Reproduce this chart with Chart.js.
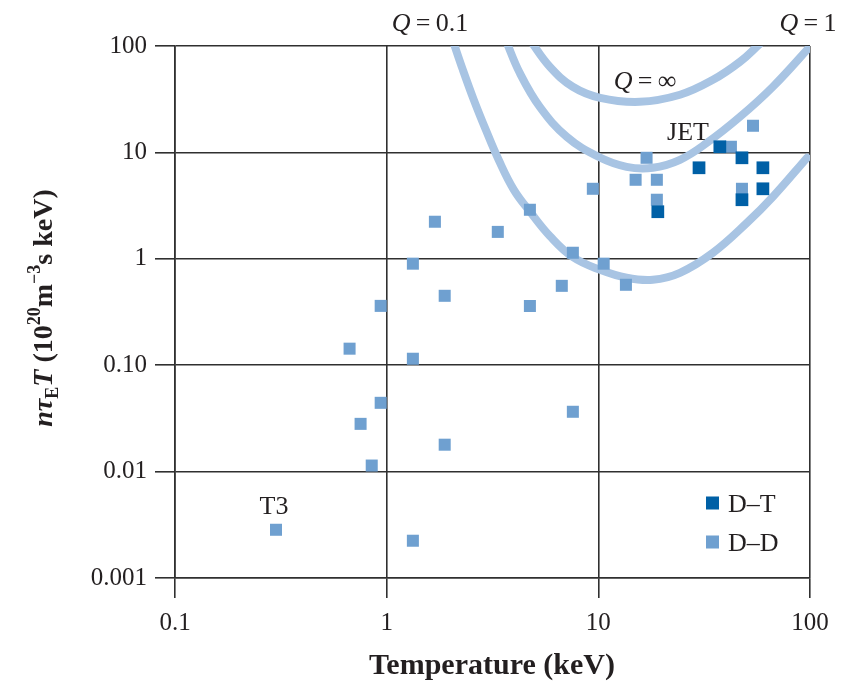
<!DOCTYPE html>
<html>
<head>
<meta charset="utf-8">
<script src="https://cdn.jsdelivr.net/npm/chart.js@4.4.1/dist/chart.umd.min.js"></script>
<style>
  html, body { margin: 0; padding: 0; background: #fff; }
  #wrap { width: 848px; height: 687px; position: relative; }
</style>
</head>
<body>
<div id="wrap"><canvas id="chart"></canvas></div>
<script>
// temperature in keV, n tau_E T in 10^20 m^-3 s keV
const dtTemp  = [19.1, 29.9, 37.5, 47.7, 47.7, 59.9, 59.9];
const dtValue = [2.77, 7.17, 11.3, 8.9, 3.59, 7.17, 4.55];

const ddTemp  = [0.30, 0.668, 0.753, 0.85, 0.937, 0.937, 1.33, 1.33, 1.33, 1.69,
                 1.88, 1.88, 3.35, 4.75, 4.75, 6.72, 7.58, 7.58, 9.42, 10.6,
                 13.5, 15.0, 16.9, 18.9, 18.9, 42.3, 47.7, 53.8];
const ddValue = [0.00284, 0.143, 0.0281, 0.0114, 0.0443, 0.361, 0.00224, 0.115, 0.90, 2.23,
                 0.449, 0.0179, 1.79, 2.89, 0.36, 0.557, 1.14, 0.0365, 4.55, 0.90,
                 0.57, 5.53, 8.9, 5.53, 3.59, 11.3, 4.55, 17.8];

// Q contours
const qInfTemp  = [4.75, 5.90, 7.57, 10.2, 15.7, 24.3, 34.8, 46.7, 58.0];
const qInfValue = [114, 63.8, 41.4, 32.6, 29.9, 34.8, 48.1, 71.1, 105];
const qOneTemp  = [3.65, 4.25, 5.29, 7.10, 10.0, 13.6, 18.1, 24.3, 32.6, 46.7, 66.8, 102];
const qOneValue = [114, 56.0, 26.8, 14.0, 9.10, 7.32, 7.17, 8.52, 12.3, 21.6, 41.4, 103];
const qTenthTemp  = [2.05, 2.29, 2.58, 2.94, 3.38, 3.99, 4.80, 5.90, 7.57, 10.2, 13.6, 18.1,
                     24.3, 34.8, 50.4, 66.8, 96.8];
const qTenthValue = [114, 59.8, 31.2, 16.3, 8.52, 4.45, 2.71, 1.64, 1.04, 0.788, 0.663, 0.635,
                     0.739, 1.14, 2.18, 3.83, 8.90];

const xTicks = [0.1, 1, 10, 100];
const xTickLabels = ['0.1', '1', '10', '100'];
const yTicks = [0.001, 0.01, 0.1, 1, 10, 100];
const yTickLabels = ['0.001', '0.01', '0.10', '1', '10', '100'];

const seriesNames = ['D–T', 'D–D'];

const SERIF = '"Liberation Serif", "DejaVu Serif", serif';
const INK = '#231f20';
const GRID = '#303030';
const DT_COLOR = '#0060a6';
const DD_COLOR = '#6fa0d0';
const CURVE_COLOR = '#a8c4e3';

const toPts = (xs, ys) => xs.map((x, i) => ({ x: x, y: ys[i] }));

function curve(xs, ys) {
  return {
    type: 'line',
    data: toPts(xs, ys),
    borderColor: CURVE_COLOR,
    borderWidth: 8,
    borderCapStyle: 'round',
    pointRadius: 0,
    tension: 0.4,
    clip: 0,
    order: 2
  };
}

// draw a row of text pieces with their own fonts / baseline shifts
function drawRich(ctx, parts, x, y, align) {
  let total = 0;
  parts.forEach(p => { ctx.font = p.font; total += ctx.measureText(p.text).width; });
  let cx = align === 'center' ? x - total / 2 : (align === 'right' ? x - total : x);
  ctx.textAlign = 'left';
  ctx.textBaseline = 'alphabetic';
  parts.forEach(p => {
    ctx.font = p.font;
    ctx.fillText(p.text, cx, y + (p.dy || 0));
    cx += ctx.measureText(p.text).width;
  });
}

const textPlugin = {
  id: 'labels',
  afterDraw(chart) {
    const ctx = chart.ctx;
    ctx.save();
    ctx.fillStyle = INK;

    const qLabel = (val, x, y) => drawRich(ctx, [
      { text: 'Q', font: `italic 26px ${SERIF}` },
      { text: '\u2009=\u2009' + val, font: `26px ${SERIF}` }
    ], x, y, 'center');
    qLabel('0.1', 430, 31);
    qLabel('1', 808, 31);
    qLabel('∞', 645, 89);

    ctx.font = `26px ${SERIF}`;
    ctx.textAlign = 'center';
    ctx.textBaseline = 'alphabetic';
    ctx.fillText('JET', 688, 140);
    ctx.fillText('T3', 274, 514);

    // legend
    const colors = [DT_COLOR, DD_COLOR];
    seriesNames.forEach((name, i) => {
      const cy = 503 + i * 39;
      ctx.fillStyle = colors[i];
      ctx.fillRect(706, cy - 6.5, 13, 13);
      ctx.fillStyle = INK;
      ctx.font = `26px ${SERIF}`;
      ctx.textAlign = 'left';
      ctx.fillText(name, 728, cy + 9);
    });

    // x title
    ctx.font = `bold 30px ${SERIF}`;
    ctx.textAlign = 'center';
    ctx.fillText('Temperature (keV)', 492, 674);

    // y title, rotated
    ctx.translate(52, 308);
    ctx.rotate(-Math.PI / 2);
    const b = `bold 28px ${SERIF}`, bi = `italic bold 28px ${SERIF}`, s = `bold 18px ${SERIF}`;
    drawRich(ctx, [
      { text: 'nτ', font: bi },
      { text: 'E', font: s, dy: 6 },
      { text: 'T', font: bi },
      { text: ' (10', font: b },
      { text: '20', font: s, dy: -12 },
      { text: 'm', font: b },
      { text: '−3', font: s, dy: -12 },
      { text: 's keV)', font: b }
    ], 0, 0, 'center');
    ctx.restore();
  }
};

const axisBase = {
  type: 'logarithmic',
  grid: { color: GRID, lineWidth: 1.6, tickLength: 20, tickColor: GRID, tickWidth: 1.6 },
  border: { display: true, color: GRID, width: 1.6 },
};

new Chart(document.getElementById('chart'), {
  type: 'scatter',
  data: {
    datasets: [
      {
        label: seriesNames[0],
        data: toPts(dtTemp, dtValue),
        pointStyle: 'rect',
        pointRadius: 9,
        pointBorderWidth: 0,
        backgroundColor: DT_COLOR,
        order: 0
      },
      {
        label: seriesNames[1],
        data: toPts(ddTemp, ddValue),
        pointStyle: 'rect',
        pointRadius: 8.5,
        pointBorderWidth: 0,
        backgroundColor: DD_COLOR,
        order: 1
      },
      curve(qInfTemp, qInfValue),
      curve(qOneTemp, qOneValue),
      curve(qTenthTemp, qTenthValue)
    ]
  },
  options: {
    responsive: true,
    maintainAspectRatio: false,
    animation: false,
    layout: { padding: { left: 0, top: 46, right: 38, bottom: 0 } },
    plugins: { legend: { display: false }, tooltip: { enabled: false } },
    scales: {
      x: {
        ...axisBase,
        min: 0.1,
        max: 100,
        afterBuildTicks: axis => { axis.ticks = xTicks.map(v => ({ value: v })); },
        afterFit: axis => { axis.height = 109; },
        ticks: {
          autoSkip: false,
          maxRotation: 0,
          padding: 10,
          color: INK,
          font: { family: SERIF, size: 25 },
          callback: (v, i) => xTickLabels[i]
        }
      },
      y: {
        ...axisBase,
        min: 0.001,
        max: 100,
        afterBuildTicks: axis => { axis.ticks = yTicks.map(v => ({ value: v })); },
        afterFit: axis => { axis.width = 175; },
        ticks: {
          autoSkip: false,
          padding: 8,
          color: INK,
          font: { family: SERIF, size: 25 },
          callback: (v, i) => yTickLabels[i]
        }
      }
    }
  },
  plugins: [textPlugin]
});
</script>
</body>
</html>
